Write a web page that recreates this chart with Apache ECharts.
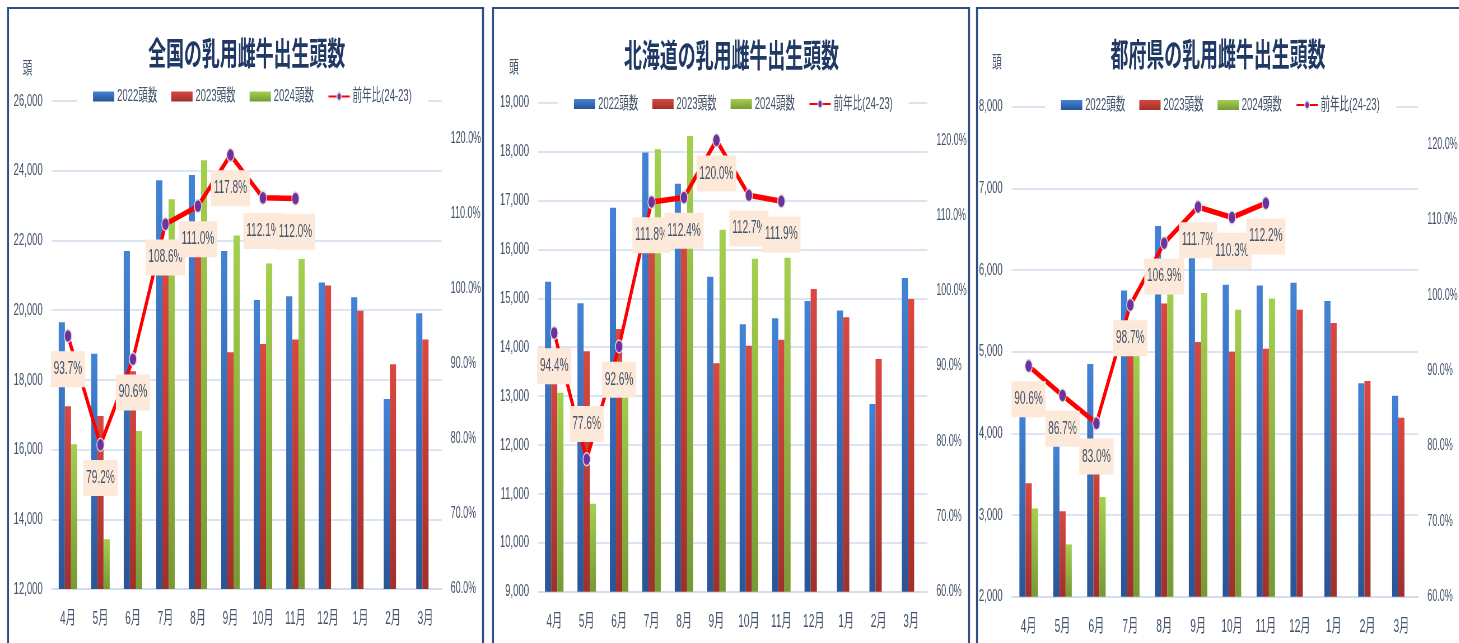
<!DOCTYPE html>
<html>
<head>
<meta charset="utf-8">
<script src="https://cdn.jsdelivr.net/npm/echarts@6/dist/echarts.min.js"></script>
<style>
html,body{margin:0;padding:0;overflow:hidden;background:#fff;width:1459px;height:643px}
#c{height:643px;transform-origin:0 0}
</style>
</head>
<body>
<div id="c"></div>
<script>
// ---- data ----
const months = ['4月','5月','6月','7月','8月','9月','10月','11月','12月','1月','2月','3月'];
const seriesNames = ['2022頭数','2023頭数','2024頭数','前年比(24-23)'];

const zenkokuTitle = '全国の乳用雌牛出生頭数';
const zenkoku2022 = [19650, 18750, 21700, 23730, 23880, 21700, 20290, 20400, 20790, 20370, 17450, 19910];
const zenkoku2023 = [17240, 16960, 18250, 21340, 21890, 18790, 19030, 19160, 20710, 19980, 18450, 19160];
const zenkoku2024 = [16150, 13430, 16530, 23180, 24300, 22140, 21340, 21470];
const zenkokuRatio = [93.7, 79.2, 90.6, 108.6, 111.0, 117.8, 112.1, 112.0];

const hokkaidoTitle = '北海道の乳用雌牛出生頭数';
const hokkaido2022 = [15340, 14900, 16850, 17980, 17340, 15440, 14470, 14590, 14945, 14750, 12840, 15415];
const hokkaido2023 = [13850, 13915, 14370, 16145, 16300, 13670, 14030, 14150, 15190, 14610, 13760, 14985];
const hokkaido2024 = [13070, 10800, 13310, 18050, 18320, 16400, 15810, 15830];
const hokkaidoRatio = [94.4, 77.6, 92.6, 111.8, 112.4, 120.0, 112.7, 111.9];

const tofukenTitle = '都府県の乳用雌牛出生頭数';
const tofuken2022 = [4310, 3850, 4850, 5750, 6540, 6260, 5820, 5810, 5845, 5620, 4615, 4460];
const tofuken2023 = [3390, 3045, 3880, 5195, 5590, 5120, 5000, 5035, 5515, 5350, 4640, 4190];
const tofuken2024 = [3080, 2640, 3220, 5130, 5980, 5720, 5515, 5650];
const tofukenRatio = [90.6, 86.7, 83.0, 98.7, 106.9, 111.7, 110.3, 112.2];

const unitLabel = '頭';
// left-axis ranges [min, max, interval]
const zenkokuAxis = [12000, 26000, 2000];
const hokkaidoAxis = [9000, 19000, 1000];
const tofukenAxis = [2000, 8000, 1000];
const ratioAxis = [60, 125, 10];

// ---- layout / style (output pixels; x is converted to the unscaled canvas) ----
const S = 0.56;
const W = Math.ceil(1459 / S);
const X = v => v / S;
const FONT = '"Liberation Sans", "Noto Sans CJK JP", sans-serif';
const TXT = '#44546A';
const GRIDLINE = '#CFDCEE';
const BORDER = '#2F4E85';

const panels = [
  { title: zenkokuTitle, d22: zenkoku2022, d23: zenkoku2023, d24: zenkoku2024, ratio: zenkokuRatio, axis: zenkokuAxis,
    grid: [51.7, 441.7, 101, 589], box: [7, 484], titlePos: [246.7, 53], unitPos: [27.5, 68], legend: [77, 84], labelTop: [] },
  { title: hokkaidoTitle, d22: hokkaido2022, d23: hokkaido2023, d24: hokkaido2024, ratio: hokkaidoRatio, axis: hokkaidoAxis,
    grid: [538, 927.3, 102.7, 591.7], box: [492, 970], titlePos: [731.5, 55], unitPos: [514, 67], legend: [558, 91.5], labelTop: [1] },
  { title: tofukenTitle, d22: tofuken2022, d23: tofuken2023, d24: tofuken2024, ratio: tofukenRatio, axis: tofukenAxis,
    grid: [1011.7, 1420, 106.7, 596.7], box: [976, 1480], titlePos: [1218, 54], unitPos: [997, 62], legend: [1045, 92.5], labelTop: [] }
];

function grad(top, bottom) {
  return new echarts.graphic.LinearGradient(0, 0, 0, 1, [
    { offset: 0, color: top }, { offset: 1, color: bottom }
  ]);
}
const barColors = [grad('#4383D6', '#2A5596'), grad('#DA4841', '#A0302C'), grad('#A4D04F', '#779A34')];

const el = document.getElementById('c');
el.style.width = W + 'px';
el.style.transform = 'scaleX(' + S + ')';
const chart = echarts.init(el, null, { renderer: 'canvas', width: W, height: 643 });

const grids = [], xAxes = [], yAxes = [], series = [], legends = [], graphics = [];

panels.forEach((p, i) => {
  const [gl, gr, gt, gb] = p.grid;
  grids.push({ left: X(gl), width: X(gr - gl), top: gt, height: gb - gt, containLabel: false });
  xAxes.push({
    type: 'category', gridIndex: i, data: months, boundaryGap: true,
    axisLine: { show: true, lineStyle: { color: GRIDLINE, width: 1.6 } },
    axisTick: { show: false },
    axisLabel: { color: TXT, fontFamily: FONT, fontSize: 18, margin: 21, interval: 0 }
  });
  yAxes.push({
    type: 'value', gridIndex: i, min: p.axis[0], max: p.axis[1], interval: p.axis[2],
    axisLine: { show: false }, axisTick: { show: false },
    splitLine: { show: true, lineStyle: { color: GRIDLINE, width: 1.6 } },
    axisLabel: { color: TXT, fontFamily: FONT, fontSize: 17, margin: X(9),
      formatter: v => v.toLocaleString('en-US') }
  });
  yAxes.push({
    type: 'value', gridIndex: i, position: 'right', min: ratioAxis[0], max: ratioAxis[1], interval: ratioAxis[2],
    axisLine: { show: false }, axisTick: { show: false }, splitLine: { show: false },
    axisLabel: { color: TXT, fontFamily: FONT, fontSize: 16, margin: X(9), showMaxLabel: false,
      formatter: v => v.toFixed(1) + '%' }
  });
  [p.d22, p.d23, p.d24].forEach((d, k) => {
    series.push({
      type: 'bar', name: seriesNames[k], xAxisIndex: i, yAxisIndex: 2 * i, data: d,
      barWidth: 11, barGap: '0%', itemStyle: { color: barColors[k] }, z: 2
    });
  });
  series.push({
    type: 'line', name: seriesNames[3], xAxisIndex: i, yAxisIndex: 2 * i + 1,
    data: p.ratio.map((v, j) => p.labelTop.includes(j) ? { value: v, label: { position: 'top', distance: 10 } } : v),
    symbol: 'circle', symbolSize: 13,
    lineStyle: { color: '#FF0000', width: 5.5 },
    itemStyle: { color: '#7030A0', borderColor: '#D8D8D8', borderWidth: 1.5 },
    z: 10,
    label: {
      show: true, position: 'bottom', distance: 8,
      formatter: prm => Number(prm.value).toFixed(1) + '%',
      backgroundColor: '#FDE9D9', padding: [9, 5], color: TXT, fontFamily: FONT, fontSize: 18
    }
  });
  legends.push({
    left: X(p.legend[0]), top: p.legend[1], orient: 'horizontal',
    backgroundColor: '#ffffff', padding: [4, X(16)],
    itemWidth: 38, itemHeight: 10, itemGap: 25,
    textStyle: { color: TXT, fontFamily: FONT, fontSize: 17 },
    data: [
      { name: seriesNames[0], icon: 'rect' },
      { name: seriesNames[1], icon: 'rect' },
      { name: seriesNames[2], icon: 'rect' },
      { name: seriesNames[3] }
    ],
    selectedMode: false
  });
  graphics.push({
    type: 'text', x: X(p.titlePos[0]), y: p.titlePos[1],
    style: { text: p.title, font: 'bold 32px "Noto Sans CJK JP", sans-serif', fill: '#1F3864', align: 'center', verticalAlign: 'middle' }
  });
  graphics.push({
    type: 'text', x: X(p.unitPos[0]), y: p.unitPos[1],
    style: { text: unitLabel, font: '17px "Noto Sans CJK JP", sans-serif', fill: TXT, align: 'center', verticalAlign: 'middle' }
  });
  const [bl, br] = p.box;
  graphics.push({ type: 'rect', shape: { x: X(bl), y: 7, width: X(br - bl), height: 2 }, style: { fill: BORDER } });
  graphics.push({ type: 'rect', shape: { x: X(bl), y: 7, width: X(2), height: 660 }, style: { fill: BORDER } });
  graphics.push({ type: 'rect', shape: { x: X(br - 2), y: 7, width: X(2), height: 660 }, style: { fill: BORDER } });
});

chart.setOption({
  backgroundColor: '#ffffff',
  animation: false,
  grid: grids, xAxis: xAxes, yAxis: yAxes, series: series, legend: legends,
  graphic: { elements: graphics }
});
</script>
</body>
</html>
